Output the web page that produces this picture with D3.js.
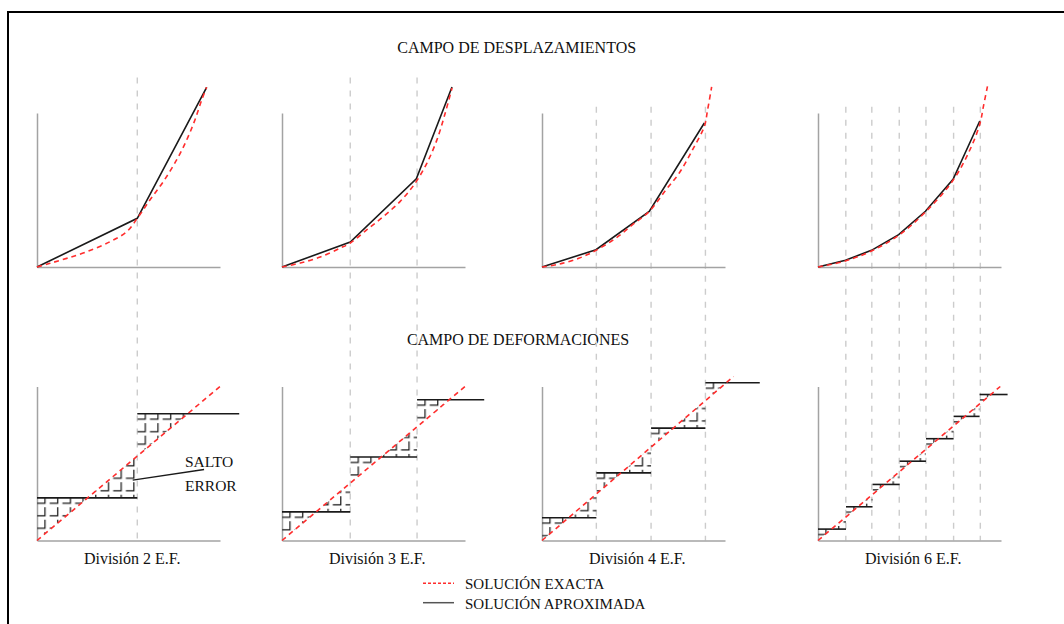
<!DOCTYPE html>
<html>
<head>
<meta charset="utf-8">
<script src="https://cdn.jsdelivr.net/npm/d3@7"></script>
<style>
  body { margin: 0; background: #fff; }
</style>
</head>
<body>
<script>
// Panel labels
const labels = ['División 2 E.F.', 'División 3 E.F.', 'División 4 E.F.', 'División 6 E.F.'];

// Node positions (x in % of axis length)
const nodesX = [
  [54.8],
  [37.3, 73.8],
  [29.7, 59.6, 89.3],
  [15.2, 29.4, 44.4, 59.0, 74.1, 88.7]
];
// top of dashed node lines (top panel units)
const gridTop = [123, 123, 104, 104];

// Displacement field: exact solution
const exactUX = [
  [0, 7.1, 16.2, 27.2, 39.9, 49.0, 54.8, 61.7, 69.0, 76.3, 81.8, 86.3, 90.0, 92.7],
  [0, 10, 20.9, 31.9, 37.3, 46.4, 55.5, 64.6, 72.8, 79.2, 84.7, 89.2, 92.9],
  [0, 9.5, 20.4, 29.5, 40.4, 49.5, 58.6, 67.8, 75.0, 82.3, 88.7, 90.5, 92.7],
  [0, 15.0, 29.2, 44.1, 58.7, 73.8, 82.9, 88.4, 90.5, 92.6]
];
const exactUY = [
  [0, 2.4, 5.6, 9.9, 16.4, 22.9, 31.6, 43.5, 55.4, 69.5, 82.5, 95.5, 108.4, 116.7],
  [0, 2.6, 6.5, 12.3, 15.6, 24.2, 32.9, 42.6, 54.5, 67.5, 82.7, 100, 116.2],
  [0, 1.9, 5.8, 10.8, 18.8, 27.5, 36.1, 50.2, 61.0, 76.2, 91.3, 102.1, 116.9],
  [0, 3.9, 10.4, 20.6, 35.7, 56.3, 75.8, 92.7, 105.0, 117.3]
];
// Displacement field: FE approximation
const approxUX = [
  [0, 54.8, 92.7],
  [0, 37.3, 73.4, 92.9],
  [0, 29.5, 58.6, 88.7],
  [0, 15.0, 29.2, 44.1, 58.7, 73.8, 88.4]
];
const approxUY = [
  [0, 31.6, 116.7],
  [0, 16.2, 57.3, 116.9],
  [0, 11.2, 36.1, 93.5],
  [0, 4.4, 10.8, 21.0, 36.2, 56.9, 94.8]
];

// Strain field: FE steps
const stepBreaks = [
  [0, 54.8, 110.5],
  [0, 37.3, 73.8, 110.5],
  [0, 29.7, 59.6, 89.3, 119.0],
  [0, 15.3, 29.8, 44.6, 59.0, 74.1, 88.3, 103.6]
];
const stepValues = [
  [27.7, 82.3],
  [18.6, 54.2, 91.4],
  [14.8, 43.9, 73.0, 102.4],
  [7.4, 21.9, 36.4, 51.5, 66.1, 80.6, 94.8]
];
// Strain field: exact (linear) end point
const strainEndX = [100, 100, 104.7, 99.6];
const strainEndY = [100, 100, 106.5, 100];

// Annotation leader (panel 1 bottom units)
const saltoLine = [[52.3, 39.2], [91.3, 46.1]];

// Layout
const W = 1064, H = 624;
const left = [37, 282, 542, 818];
const axisW = 183, axisH = 154;
const topBase = 267, botBase = 540.5;
const red = '#ff2d2d', ink = '#1a1a1a', axisCol = '#a3a3a3', gridCol = '#cccccc';
const serif = '"Liberation Serif", "Times New Roman", Times, "DejaVu Serif", serif';

const svg = d3.select('body').append('svg')
  .attr('width', W)
  .attr('height', H)
  .attr('font-family', serif);

const defs = svg.append('defs');

// frame
svg.append('path')
  .attr('d', `M8,${H} V12 H${W}`)
  .attr('fill', 'none')
  .attr('stroke', '#000')
  .attr('stroke-width', 2);

// titles
svg.append('text')
  .attr('x', 516.7).attr('y', 53.3)
  .attr('text-anchor', 'middle')
  .attr('font-family', serif)
  .attr('font-size', 16)
  .attr('fill', '#111')
  .text('CAMPO DE DESPLAZAMIENTOS');

svg.append('text')
  .attr('x', 518).attr('y', 345)
  .attr('text-anchor', 'middle')
  .attr('font-family', serif)
  .attr('font-size', 16)
  .attr('fill', '#111')
  .text('CAMPO DE DEFORMACIONES');

labels.forEach((lab, p) => {
  const x = d3.scaleLinear().domain([0, 100]).range([left[p], left[p] + axisW]);
  const yT = d3.scaleLinear().domain([0, 100]).range([topBase, topBase - axisH]);
  const yB = d3.scaleLinear().domain([0, 100]).range([botBase, botBase - axisH]);
  const g = svg.append('g');

  // dashed node lines through both panels
  g.selectAll('line.grid')
    .data(nodesX[p])
    .join('line')
      .attr('class', 'grid')
      .attr('x1', d => x(d)).attr('x2', d => x(d))
      .attr('y1', yT(gridTop[p])).attr('y2', yB(0))
      .attr('stroke', gridCol)
      .attr('stroke-width', 1.4)
      .attr('stroke-dasharray', '6,7');

  // axes (no ticks, just the lines)
  [yT, yB].forEach(y => {
    g.append('g')
      .attr('transform', `translate(0,${y(0)})`)
      .call(d3.axisBottom(x).tickValues([]).tickSizeOuter(0));
    g.append('g')
      .attr('transform', `translate(${x(0)},0)`)
      .call(d3.axisLeft(y).tickValues([]).tickSizeOuter(0));
  });

  // --- displacement field ---
  const lineT = d3.line().x(d => x(d[0])).y(d => yT(d[1]));
  const curveT = d3.line().x(d => x(d[0])).y(d => yT(d[1])).curve(d3.curveCatmullRom);

  g.append('path')
    .datum(d3.zip(approxUX[p], approxUY[p]))
    .attr('d', lineT)
    .attr('fill', 'none')
    .attr('stroke', ink)
    .attr('stroke-width', 1.6);

  g.append('path')
    .datum(d3.zip(exactUX[p], exactUY[p]))
    .attr('d', curveT)
    .attr('fill', 'none')
    .attr('stroke', red)
    .attr('stroke-width', 1.6)
    .attr('stroke-dasharray', '5,4');

  // --- strain field ---
  const slope = strainEndY[p] / strainEndX[p];
  const br = stepBreaks[p], sv = stepValues[p];
  const lineB = d3.line().x(d => x(d[0])).y(d => yB(d[1]));

  sv.forEach((s, i) => {
    const xa = br[i], xb = br[i + 1], xc = s / slope;
    const id = `hatch-${p}-${i}`;
    // "┘" brick hatch, aligned on the element start and the step level
    const pat = defs.append('pattern')
      .attr('id', id)
      .attr('patternUnits', 'userSpaceOnUse')
      .attr('x', x(xa) - 3.5)
      .attr('y', yB(s) - 6)
      .attr('width', 12.7)
      .attr('height', 12.5);
    pat.append('path')
      .attr('d', 'M3.5,11.5 H11.5 V3')
      .attr('stroke', '#111')
      .attr('stroke-width', 1.2)
      .attr('fill', 'none');

    const tris = [];
    if (xc > xa) tris.push([[xa, s], [Math.min(xc, xb), s], [xa, slope * xa]]);
    if (i < sv.length - 1 && xc < xb) tris.push([[Math.max(xc, xa), s], [xb, s], [xb, slope * xb]]);
    g.selectAll(null)
      .data(tris)
      .join('path')
        .attr('d', d => lineB(d) + 'Z')
        .attr('fill', `url(#${id})`)
        .attr('stroke', 'none');
  });

  g.selectAll('line.step')
    .data(sv)
    .join('line')
      .attr('class', 'step')
      .attr('x1', (d, i) => x(br[i]))
      .attr('x2', (d, i) => x(br[i + 1]))
      .attr('y1', d => yB(d))
      .attr('y2', d => yB(d))
      .attr('stroke', ink)
      .attr('stroke-width', 1.6);

  g.append('path')
    .datum([[0, 0], [strainEndX[p], strainEndY[p]]])
    .attr('d', lineB)
    .attr('fill', 'none')
    .attr('stroke', red)
    .attr('stroke-width', 1.6)
    .attr('stroke-dasharray', '5,4');

  if (p === 0) {
    g.append('path')
      .datum(saltoLine)
      .attr('d', lineB)
      .attr('stroke', ink)
      .attr('stroke-width', 1.3);
    g.append('text')
      .attr('x', 185).attr('y', 467.3)
      .attr('font-family', serif)
      .attr('font-size', 15.5)
      .attr('fill', '#111')
      .text('SALTO');
    g.append('text')
      .attr('x', 185).attr('y', 490.7)
      .attr('font-family', serif)
      .attr('font-size', 15.5)
      .attr('fill', '#111')
      .text('ERROR');
  }

  g.append('text')
    .attr('x', x(52)).attr('y', 563.5)
    .attr('text-anchor', 'middle')
    .attr('font-family', serif)
    .attr('font-size', 16)
    .attr('fill', '#111')
    .text(lab);
});

svg.selectAll('.domain')
  .attr('stroke', axisCol)
  .attr('stroke-width', 1.5);

// legend
const legend = [
  { label: 'SOLUCIÓN EXACTA', color: red, dash: '3,2', y: 583.3 },
  { label: 'SOLUCIÓN APROXIMADA', color: '#555', dash: null, y: 602.7 }
];
const lg = svg.append('g');
lg.selectAll('line')
  .data(legend)
  .join('line')
    .attr('x1', 423).attr('x2', 454)
    .attr('y1', d => d.y).attr('y2', d => d.y)
    .attr('stroke', d => d.color)
    .attr('stroke-width', 1.5)
    .attr('stroke-dasharray', d => d.dash);
lg.selectAll('text')
  .data(legend)
  .join('text')
    .attr('x', 465)
    .attr('y', d => d.y + 6)
    .attr('font-family', serif)
    .attr('font-size', 15)
    .attr('fill', '#111')
    .text(d => d.label);
</script>
</body>
</html>
